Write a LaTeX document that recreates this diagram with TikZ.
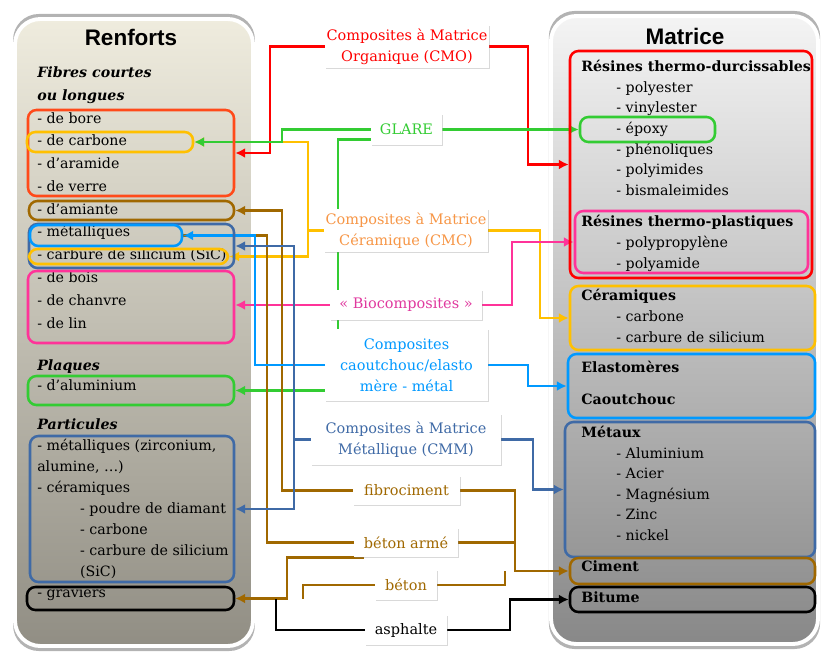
\documentclass[tikz,border=0pt]{standalone}
\usepackage{fontspec}
\setmainfont{DejaVu Serif}
\newfontfamily\headfont{Liberation Sans}
\usetikzlibrary{arrows.meta, fit, shadows}

\definecolor{cmored}{HTML}{FF0000}
\definecolor{fibred}{HTML}{FF4A1A}
\definecolor{glgreen}{HTML}{33CC33}
\definecolor{cmcyel}{HTML}{FFC000}
\definecolor{cmctxt}{HTML}{F79646}
\definecolor{biopink}{HTML}{FF3399}
\definecolor{biotxt}{HTML}{E0389E}
\definecolor{caoblue}{HTML}{0099FF}
\definecolor{cmmblue}{HTML}{3F6AA6}
\definecolor{brun}{HTML}{A06800}
\definecolor{renftop}{HTML}{EFECDE}
\definecolor{renfbot}{HTML}{918E84}
\definecolor{matrtop}{HTML}{F4F4F4}
\definecolor{matrbot}{HTML}{888888}

\pgfdeclarelayer{bg}
\pgfdeclarelayer{wires}
\pgfsetlayers{bg,wires,main}

\tikzset{
  panel/.style={draw=white, line width=2.8pt, rounded corners=18pt, inner sep=0pt,
    drop shadow={shadow xshift=0pt, shadow yshift=0pt, shadow scale=1.016, opacity=.6}},
  grp/.style={draw=#1, line width=1.8pt, rounded corners=6pt, inner sep=0pt},
  lab/.style={fill=white, text=#1, align=center, inner sep=1pt,
    font=\fontsize{10.3}{15}\selectfont,
    drop shadow={shadow xshift=.8pt, shadow yshift=-.8pt, opacity=.3}},
  txt/.style={anchor=west, align=left, inner sep=0pt},
  wire/.style={draw=#1, line width=2.1pt},
  arr/.style={-{Latex[length=7pt,width=7pt]}},
}

\begin{document}
\begin{tikzpicture}[x=0.025cm, y=-0.025cm]
\useasboundingbox (0,0) rectangle (821,651);

% Panels
\begin{pgfonlayer}{bg}
\node[panel, top color=renftop, bottom color=renfbot, fit={(15,19) (253,646)}] (renf) {};
\node[panel, top color=matrtop, bottom color=matrbot, fit={(551,16) (818,644)}] (matr) {};
\end{pgfonlayer}
\node[font=\headfont\bfseries\fontsize{16}{19}\selectfont] (rtitle) at (131,37) {Renforts};
\node[font=\headfont\bfseries\fontsize{16}{19}\selectfont] (mtitle) at (685,36) {Matrice};

% Renforts texts
\node[txt, font=\fontsize{10.1}{16.2}\selectfont] (fibtxt) at (37,197.5)
  {\textbf{\textit{Fibres courtes}}\\\textbf{\textit{ou longues}}\\- de bore\\- de carbone\\- d’aramide\\- de verre\\- d’amiante\\- métalliques\\- carbure de silicium (SiC)\\- de bois\\- de chanvre\\- de lin};
\node[txt, font=\fontsize{10.1}{14.2}\selectfont] (platxt) at (37,375)
  {\textbf{\textit{Plaques}}\\- d’aluminium};
\node[txt, font=\fontsize{10.1}{14.96}\selectfont] (partxt) at (37,509.5)
  {\textbf{\textit{Particules}}\\- métalliques (zirconium,\\alumine, …)\\- céramiques\\\hspace*{30.5pt}- poudre de diamant\\\hspace*{30.5pt}- carbone\\\hspace*{30.5pt}- carbure de silicium\\\hspace*{30.5pt}(SiC)\\- graviers};

% Matrice texts
\node[txt, font=\fontsize{10.1}{14.65}\selectfont] (thdtxt) at (581,128)
  {\textbf{Résines thermo-durcissables}\\\hspace*{25pt}- polyester\\\hspace*{25pt}- vinylester\\\hspace*{25pt}- époxy\\\hspace*{25pt}- phénoliques\\\hspace*{25pt}- polyimides\\\hspace*{25pt}- bismaleimides};
\node[txt, font=\fontsize{10.1}{14.9}\selectfont] (thptxt) at (581,243)
  {\textbf{Résines thermo-plastiques}\\\hspace*{25pt}- polypropylène\\\hspace*{25pt}- polyamide};
\node[txt, font=\fontsize{10.1}{14.9}\selectfont] (certxt) at (581,316)
  {\textbf{Céramiques}\\\hspace*{25pt}- carbone\\\hspace*{25pt}- carbure de silicium};
\node[txt, font=\fontsize{10.1}{14}\selectfont\bfseries] (elatxt) at (581,367) {Elastomères};
\node[txt, font=\fontsize{10.1}{14}\selectfont\bfseries] (caotxt) at (581,399) {Caoutchouc};
\node[txt, font=\fontsize{10.1}{14.6}\selectfont] (mtxtxt) at (581,483.5)
  {\textbf{Métaux}\\\hspace*{25pt}- Aluminium\\\hspace*{25pt}- Acier\\\hspace*{25pt}- Magnésium\\\hspace*{25pt}- Zinc\\\hspace*{25pt}- nickel};
\node[txt, font=\fontsize{10.1}{14}\selectfont\bfseries] (cimtxt) at (581,566) {Ciment};
\node[txt, font=\fontsize{10.1}{14}\selectfont\bfseries] (bittxt) at (581,597) {Bitume};

% Boxes on the Renforts side
\node[grp=fibred, fit={(28,110) (234,196)}] (fib) {};
\node[grp=cmcyel, fit={(27,132) (193,152)}] (carb) {};
\node[grp=brun, fit={(29,201) (234,220)}] (ami) {};
\node[grp=cmmblue, fit={(29,224) (234,268)}] (metg) {};
\node[grp=caoblue, fit={(30,225) (182,246)}] (met) {};
\node[grp=cmcyel, fit={(29,249) (228,264)}] (sic) {};
\node[grp=biopink, fit={(28,271) (234,343)}] (bois) {};
\node[grp=glgreen, fit={(28,376) (234,405)}] (alu) {};
\node[grp=cmmblue, fit={(30,436) (234,582)}] (part) {};
\node[grp=black, fit={(27,587) (234,610)}] (grav) {};

% Boxes on the Matrice side
\node[grp=cmored, fit={(570,51) (812,278)}] (thd) {};
\node[grp=glgreen, fit={(580,117) (715,142)}] (epo) {};
\node[grp=biopink, fit={(575,211) (808,273)}] (thp) {};
\node[grp=cmcyel, fit={(570,286) (815,350)}] (cer) {};
\node[grp=caoblue, fit={(568,354) (815,418)}] (ela) {};
\node[grp=cmmblue, fit={(565,422) (815,557)}] (mtx) {};
\node[grp=brun, fit={(570,558) (815,584)}] (cim) {};
\node[grp=black, fit={(570,587) (815,612)}] (bit) {};

% Composite labels
\node[lab=cmored, minimum width=4.05cm, minimum height=1.075cm] (cmo) at (407,46.5) {Composites à Matrice\\Organique (CMO)};
\node[lab=glgreen, minimum width=1.775cm, minimum height=0.775cm] (glare) at (406.5,129.5) {GLARE};
\node[lab=cmctxt, minimum width=4.1cm, minimum height=1.075cm] (cmc) at (406,230.5) {Composites à Matrice\\Céramique (CMC)};
\node[lab=biotxt, minimum width=3.8cm, minimum height=0.75cm] (bio) at (406,305) {« Biocomposites »};
\node[lab=caoblue, minimum width=4.075cm, minimum height=1.8cm] (cao) at (406.5,365) {Composites\\caoutchouc/elasto\\mère - métal};
\node[lab=cmmblue, minimum width=4.75cm, minimum height=1.275cm] (cmm) at (406,439.5) {Composites à Matrice\\Métallique (CMM)};
\node[lab=brun, minimum width=2.675cm, minimum height=0.725cm] (fibro) at (406.5,490.5) {fibrociment};
\node[lab=brun, minimum width=2.6cm, minimum height=0.725cm] (bam) at (406,542.5) {béton armé};
\node[lab=brun, minimum width=1.55cm, minimum height=0.75cm] (beton) at (406,585) {béton};
\node[lab=black, minimum width=2.05cm, minimum height=0.75cm] (asph) at (406,630) {asphalte};

% Connectors
\begin{pgfonlayer}{wires}
% CMO
\draw[wire=cmored, arr] (cmo.west) -| (270,0 |- fib.east) -- (fib.east);
\draw[wire=cmored, arr] (cmo.east) -| (528,0 |- thd.west) -- (thd.west);
% CMC
\draw[wire=cmcyel, arr] (cmc.west) -| (308,0 |- carb.east) -- (carb.east);
\draw[wire=cmcyel, arr] (cmc.west) -| (308,0 |- sic.east) -- (sic.east);
\draw[wire=cmcyel, arr] (cmc.east) -| (540,0 |- cer.west) -- (cer.west);
% GLARE
\draw[wire=glgreen, arr] (glare.west) -| (282,0 |- carb.east) -- (carb.east);
\draw[wire=glgreen, arr] (glare.east) -- (epo.west);
\draw[wire=glgreen, arr] ([yshift=4pt]glare.south west) -| (338,0 |- alu.east) -- (alu.east);
% Biocomposites
\draw[wire=biopink, arr] (bio.west) -- (bio.west -| bois.east);
\draw[wire=biopink, arr] (bio.east) -| (512,0 |- thp.west) -- (thp.west);
% beton arme, fibrociment
\draw[wire=brun] (bam.west) -| (267,0 |- met.east) -- (met.east);
\draw[wire=brun, arr] (fibro.west) -| (282,0 |- ami.east) -- (ami.east);
% caoutchouc / metal
\draw[wire=caoblue, arr] (cao.west) -| (255,0 |- met.east) -- (met.east);
\draw[wire=caoblue, arr] (cao.east) -| (528,0 |- ela.west) -- (ela.west);
% CMM
\draw[wire=cmmblue, arr] (cmm.west) -| (294,0 |- metg.east) -- (metg.east);
\draw[wire=cmmblue, arr] (cmm.west) -| (294,0 |- part.east) -- (part.east);
\draw[wire=cmmblue, arr] (cmm.east) -| (533,0 |- mtx.west) -- (mtx.west);
% Ciment
\draw[wire=brun, arr] ([xshift=7pt]bam.south west) -| (287,0 |- grav.east) -- (grav.east);
\draw[wire=brun] (beton.west) -| (303,0 |- grav.east);
\draw[wire=brun, arr] (fibro.east) -| (515,0 |- cim.west) -- (cim.west);
\draw[wire=brun] (bam.east) -- (515,0 |- bam.east);
\draw[wire=brun] (beton.east) -| (505,0 |- cim.west);
% Bitume
\draw[wire=black] (asph.west) -| (276,0 |- grav.east);
\draw[wire=black, arr] (asph.east) -| (510,0 |- bit.west) -- (bit.west);
\end{pgfonlayer}

\end{tikzpicture}
\end{document}
